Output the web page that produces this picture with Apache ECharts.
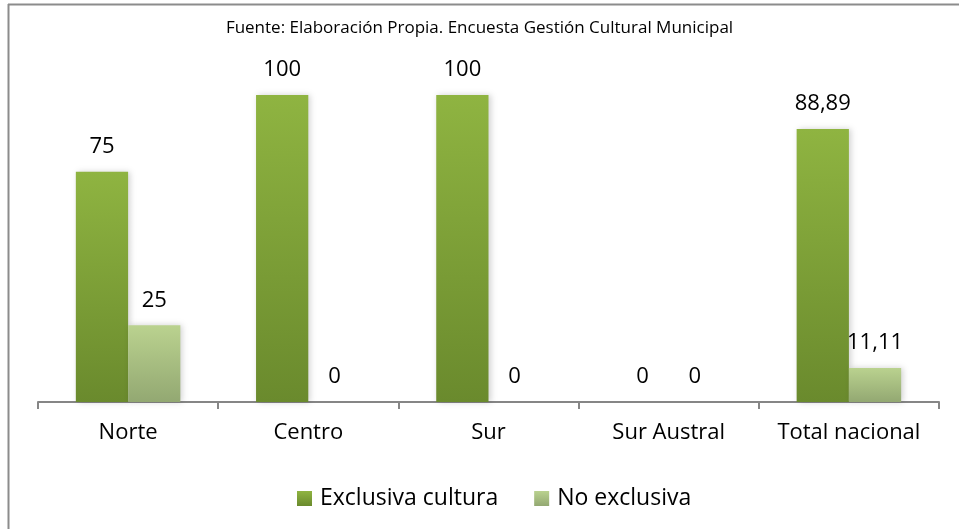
<!DOCTYPE html>
<html>
<head>
<meta charset="utf-8">
<script src="https://cdn.jsdelivr.net/npm/echarts@6/dist/echarts.min.js"></script>
<style>
  html, body { margin: 0; padding: 0; background: #fff; }
  #main { width: 959px; height: 529px; }
</style>
</head>
<body>
<div id="main"></div>
<script>
'use strict';

// categorias y valores (%)
var categorias = ['Norte', 'Centro', 'Sur', 'Sur Austral', 'Total nacional'];
var exclusiva = [75, 100, 100, 0, 88.89];
var noExclusiva = [25, 0, 0, 0, 11.11];
var nombres = ['Exclusiva cultura', 'No exclusiva'];

var fuente = "'Open Sans', sans-serif";

function grad(top, bottom) {
    return new echarts.graphic.LinearGradient(0, 0, 0, 1, [
        {offset: 0, color: top},
        {offset: 1, color: bottom}
    ]);
}

function etiqueta(p) {
    return String(p.value).replace('.', ',');
}

var chart = echarts.init(document.getElementById('main'));

var option = {
    animation: false,
    backgroundColor: '#fff',
    title: {
        text: 'Fuente: Elaboración Propia. Encuesta Gestión Cultural Municipal',
        left: 'center',
        top: 15,
        textStyle: {fontFamily: fuente, fontSize: 17, fontWeight: 'normal', color: '#000'}
    },
    graphic: [
        {type: 'line', shape: {x1: 8, y1: 4.5, x2: 959, y2: 4.5}, style: {stroke: '#8c8c8c', lineWidth: 2}},
        {type: 'line', shape: {x1: 8.5, y1: 4, x2: 8.5, y2: 529}, style: {stroke: '#8c8c8c', lineWidth: 2}}
    ],
    legend: {
        top: 482,
        left: 292,
        itemWidth: 15,
        itemHeight: 15,
        itemGap: 36,
        icon: 'rect',
        textStyle: {fontFamily: fuente, fontSize: 23, color: '#000', padding: [0, 0, 0, 3]},
        data: nombres
    },
    grid: {left: 38, right: 20, top: 95, bottom: 127},
    xAxis: {
        type: 'category',
        data: categorias,
        axisLine: {lineStyle: {color: '#868686', width: 2}},
        axisTick: {show: true, interval: 0, length: 7, lineStyle: {color: '#868686', width: 2}},
        axisLabel: {interval: 0, fontFamily: fuente, fontSize: 22, color: '#000', margin: 20}
    },
    yAxis: {
        type: 'value',
        min: 0,
        max: 100,
        show: false,
        splitLine: {show: false}
    },
    series: [
        {
            name: nombres[0],
            type: 'bar',
            data: exclusiva,
            barGap: '0%',
            barCategoryGap: '42%',
            itemStyle: {
                color: grad('#8fb441', '#6a8a2d'),
                shadowColor: 'rgba(0,0,0,0.18)',
                shadowBlur: 6,
                shadowOffsetX: 2
            },
            label: {
                show: true, position: 'top', distance: 14,
                fontFamily: fuente, fontSize: 22, color: '#000',
                formatter: etiqueta
            }
        },
        {
            name: nombres[1],
            type: 'bar',
            data: noExclusiva,
            itemStyle: {
                color: grad('#bad28f', '#93a872'),
                shadowColor: 'rgba(0,0,0,0.18)',
                shadowBlur: 6,
                shadowOffsetX: 2
            },
            label: {
                show: true, position: 'top', distance: 14,
                fontFamily: fuente, fontSize: 22, color: '#000',
                formatter: etiqueta
            }
        }
    ]
};

chart.setOption(option);
</script>
</body>
</html>
